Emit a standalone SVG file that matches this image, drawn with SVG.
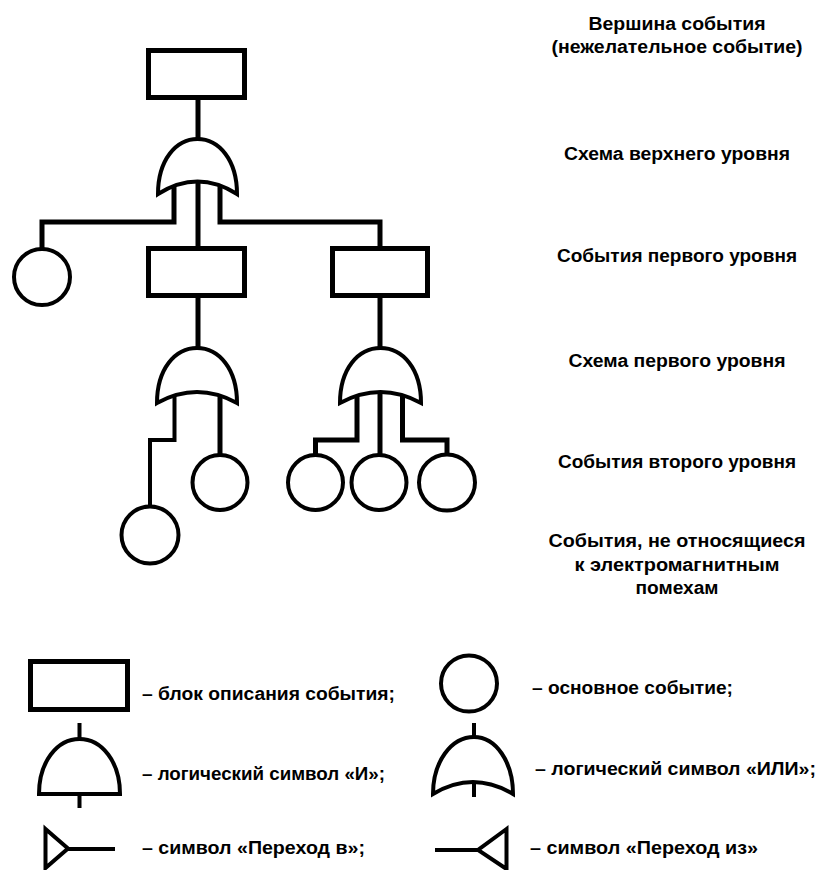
<svg xmlns="http://www.w3.org/2000/svg" width="819" height="870" viewBox="0 0 819 870">
<style>
.t{font-family:"Liberation Sans",Arial,sans-serif;font-weight:bold;font-size:18px;fill:#000}
.c{text-anchor:middle}
.box{fill:#fff;stroke:#000;stroke-width:5}
.ev{fill:#fff;stroke:#000;stroke-width:4}
.gate{fill:#fff;stroke:#000;stroke-width:4;stroke-linejoin:miter}
.ln{fill:none;stroke:#000;stroke-width:5}
.thin{fill:none;stroke:#000;stroke-width:4}
</style>
<rect width="819" height="870" fill="#fff"/>
<g id="connectors">
  <path class="ln" d="M198,100 V140"/>
  <path class="ln" d="M174,184 V222 H42 V249"/>
  <path class="ln" d="M198,182 V247"/>
  <path class="ln" d="M220,184 V222 H380 V247"/>
  <path class="ln" d="M198,297 V349"/>
  <path class="ln" d="M380,297 V349"/>
  <path class="thin" d="M174.5,393 V440 H150 V507"/>
  <path class="ln" d="M220,393 V455"/>
  <path class="ln" d="M357,393 V440 H315.5 V455"/>
  <path class="ln" d="M380,391 V455"/>
  <path class="ln" d="M402.5,393 V440 H447 V455"/>
</g>
<g id="top-event"><rect class="box" x="148.5" y="50.5" width="96" height="47"/></g>
<g id="top-gate"><path class="gate" d="M158,194 C158,160 176,139 197.5,139 C219,139 237,160 237,194 Q197.5,169 158,194 Z"/></g>
<g id="basic-1"><circle class="ev" cx="42" cy="277" r="28"/></g>
<g id="event-1"><rect class="box" x="148.5" y="248.5" width="96" height="47"/></g>
<g id="event-2"><rect class="box" x="332.5" y="248.5" width="95" height="47"/></g>
<g id="gate-1"><path class="gate" d="M157,403 C157,369 175,348 197,348 C219,348 237,369 237,403 Q197,381 157,403 Z"/></g>
<g id="gate-2"><path class="gate" d="M340,403 C340,369 358,348 380.5,348 C403,348 421,369 421,403 Q380.5,381 340,403 Z"/></g>
<g id="basic-2"><circle class="ev" cx="150" cy="535" r="28.5"/></g>
<g id="basic-3"><circle class="ev" cx="220" cy="482.5" r="27.5"/></g>
<g id="basic-4"><circle class="ev" cx="315.5" cy="482.5" r="27.5"/></g>
<g id="basic-5"><circle class="ev" cx="379" cy="482.5" r="27.5"/></g>
<g id="basic-6"><circle class="ev" cx="447" cy="482.5" r="28"/></g>

<g id="level-labels">
  <text class="t c" x="677" y="30" textLength="177" lengthAdjust="spacingAndGlyphs">Вершина события</text>
  <text class="t c" x="677" y="53" textLength="251" lengthAdjust="spacingAndGlyphs">(нежелательное событие)</text>
  <text class="t c" x="677" y="160" textLength="226" lengthAdjust="spacingAndGlyphs">Схема верхнего уровня</text>
  <text class="t c" x="677" y="262" textLength="240" lengthAdjust="spacingAndGlyphs">События первого уровня</text>
  <text class="t c" x="677" y="367" textLength="217" lengthAdjust="spacingAndGlyphs">Схема первого уровня</text>
  <text class="t c" x="677" y="468" textLength="238" lengthAdjust="spacingAndGlyphs">События второго уровня</text>
  <text class="t c" x="677" y="547" textLength="257" lengthAdjust="spacingAndGlyphs">События, не относящиеся</text>
  <text class="t c" x="677" y="571" textLength="205" lengthAdjust="spacingAndGlyphs">к электромагнитным</text>
  <text class="t c" x="677" y="594" textLength="83" lengthAdjust="spacingAndGlyphs">помехам</text>
</g>

<g id="legend-box">
  <rect class="box" x="30.5" y="661.5" width="97" height="48"/>
  <text class="t" x="142" y="700" textLength="253" lengthAdjust="spacingAndGlyphs">– блок описания события;</text>
</g>
<g id="legend-basic">
  <circle class="ev" cx="469" cy="683.5" r="28"/>
  <text class="t" x="532" y="694" textLength="201" lengthAdjust="spacingAndGlyphs">– основное событие;</text>
</g>
<g id="legend-and">
  <path class="thin" d="M79.5,723 V739 M79.5,794 V808"/>
  <path class="gate" d="M39,794 C39,762 57,739 79.5,739 C102,739 120,762 120,794 Z"/>
  <text class="t" x="142" y="780" textLength="243" lengthAdjust="spacingAndGlyphs">– логический символ «И»;</text>
</g>
<g id="legend-or">
  <path class="thin" d="M474,723 V739"/>
  <path class="gate" d="M433,794 C433,762 451,737 474,737 C496,737 513,762 513,794 Q473,770 433,794 Z"/>
  <path class="thin" d="M474,782 V797"/>
  <text class="t" x="535" y="775" textLength="281" lengthAdjust="spacingAndGlyphs">– логический символ «ИЛИ»;</text>
</g>
<g id="legend-transfer-in">
  <path class="thin" d="M45.5,829 L68,848.5 L45.5,868 Z M68,849 H115"/>
  <text class="t" x="142" y="854" textLength="223" lengthAdjust="spacingAndGlyphs">– символ «Переход в»;</text>
</g>
<g id="legend-transfer-out">
  <path class="thin" d="M506.5,829 L478,850 L506.5,869 Z M478,850 H435"/>
  <text class="t" x="530" y="854" textLength="228" lengthAdjust="spacingAndGlyphs">– символ «Переход из»</text>
</g>
</svg>
